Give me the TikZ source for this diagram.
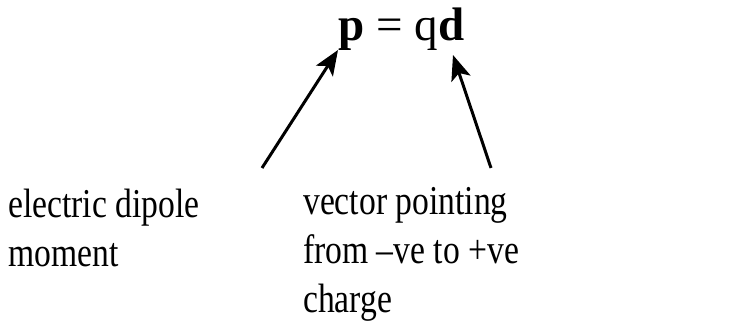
\documentclass[tikz,border=0pt]{standalone}
\usepackage{fontspec}
\setmainfont{Liberation Serif}[FakeStretch=0.82]
\newfontfamily\formulafont{Liberation Serif}
\usetikzlibrary{arrows.meta}

\begin{document}
\begin{tikzpicture} [x=1pt, y=1pt,
	note/.style = {anchor=base west, align=left, inner sep=0pt, font=\fontsize{41}{49}\selectfont},
	pointer/.style = {-{Stealth[length=25pt, width=20pt, inset=6pt]}, line width=3pt}]
	\useasboundingbox (0,0) rectangle (745,336);
	% formula at the top
	\node [anchor=base, inner sep=0pt, font=\formulafont\fontsize{47}{56}\selectfont] (formula) at (401.5,295) {\textbf{p} = q\textbf{d}};
	% the two explanations (anchored on their last line)
	\node [note] (dipole) at (8,69) {electric dipole\\moment};
	\node [note] (vector) at (303,23) {vector pointing\\from --ve to +ve\\charge};
	\coordinate (ptail) at (262,168);
	\coordinate (ptip) at (338,286);
	\coordinate (dtail) at (491,168);
	\coordinate (dtip) at (453,281);
	\draw [pointer] (ptail) -- (ptip);
	\draw [pointer] (dtail) -- (dtip);
\end{tikzpicture}
\end{document}
